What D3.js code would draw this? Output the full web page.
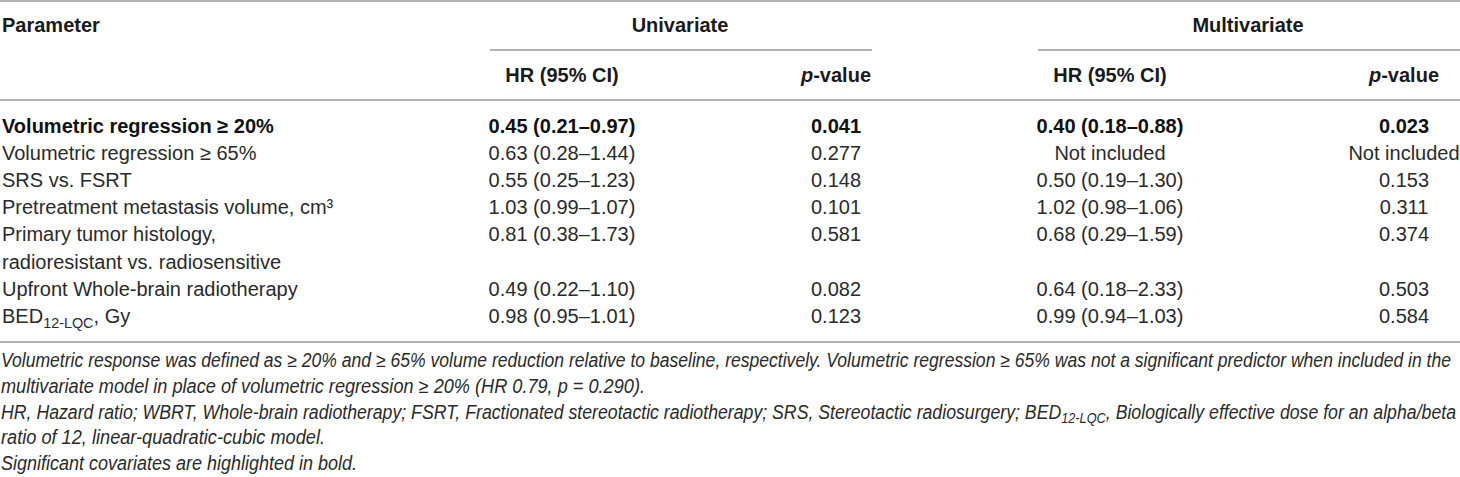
<!DOCTYPE html>
<html><head><meta charset="utf-8">
<script src="https://cdn.jsdelivr.net/npm/d3@7"></script>
<style>
body{margin:0;background:#fff}
svg{display:block}
text{font-family:"Liberation Sans",Arial,Helvetica,sans-serif}
</style>
</head><body>
<svg id="chart" width="1460" height="477"></svg>
<script>
// ---- data ----
const parameters = [
  "Volumetric regression ≥ 20%",
  "Volumetric regression ≥ 65%",
  "SRS vs. FSRT",
  "Pretreatment metastasis volume, cm³",
  "Primary tumor histology,\nradioresistant vs. radiosensitive",
  "Upfront Whole-brain radiotherapy",
  "BED_{12-LQC}, Gy"
];
const uniHR = ["0.45 (0.21–0.97)","0.63 (0.28–1.44)","0.55 (0.25–1.23)","1.03 (0.99–1.07)","0.81 (0.38–1.73)","0.49 (0.22–1.10)","0.98 (0.95–1.01)"];
const uniP = ["0.041","0.277","0.148","0.101","0.581","0.082","0.123"];
const multiHR = ["0.40 (0.18–0.88)","Not included","0.50 (0.19–1.30)","1.02 (0.98–1.06)","0.68 (0.29–1.59)","0.64 (0.18–2.33)","0.99 (0.94–1.03)"];
const multiP = ["0.023","Not included","0.153","0.311","0.374","0.503","0.584"];
const significant = [true,false,false,false,false,false,false];
const groupHeaders = ["Univariate","Multivariate"];
const columnHeaders = ["HR (95% CI)","*p*-value","HR (95% CI)","*p*-value"];
const footnotes = [
  "Volumetric response was defined as ≥ 20% and ≥ 65% volume reduction relative to baseline, respectively. Volumetric regression ≥ 65% was not a significant predictor when included in the",
  "multivariate model in place of volumetric regression ≥ 20% (HR 0.79, p = 0.290).",
  "HR, Hazard ratio; WBRT, Whole-brain radiotherapy; FSRT, Fractionated stereotactic radiotherapy; SRS, Stereotactic radiosurgery; BED_{12-LQC}, Biologically effective dose for an alpha/beta",
  "ratio of 12, linear-quadratic-cubic model.",
  "Significant covariates are highlighted in bold."
];

// ---- layout ----
const W = 1460;
const svg = d3.select("#chart");
const FS = 20;
const colKeys = ["uniHR","uniP","multiHR","multiP"];
const colX = d3.scaleOrdinal().domain(colKeys).range([562, 836, 1110, 1404]);
const groupSpan = d3.scaleOrdinal().domain(groupHeaders).range([[490, 872],[1038, 1460]]);

// line indices for rows (multi-line labels take more lines)
const rowLine = [];
let li = 0;
parameters.forEach(p => { rowLine.push(li); li += p.split("\n").length; });
const yRow = d3.scaleLinear().domain([0, 1]).range([132.5, 159.7]);
const yFoot = d3.scaleLinear().domain([0, 1]).range([367, 392.8]);

// rich text helper: _{sub}, *italic*
function rich(sel, str, fs) {
  const re = /(_\{[^}]*\}|\*[^*]*\*)/g;
  const parts = str.split(re).filter(s => s !== "");
  let shifted = false;
  parts.forEach(p => {
    if (p.startsWith("_{")) {
      sel.append("tspan").attr("dy", fs*0.25).attr("font-size", fs*0.72).text(p.slice(2, -1));
      shifted = true;
    } else if (p.startsWith("*") && p.endsWith("*") && p.length > 1) {
      const t = sel.append("tspan").attr("font-style","italic").text(p.slice(1, -1));
      if (shifted) { t.attr("dy", -fs*0.25); shifted = false; }
    } else {
      const t = sel.append("tspan").text(p);
      if (shifted) { t.attr("dy", -fs*0.25); shifted = false; }
    }
  });
}

// rules
const rule = (x1, x2, y) => svg.append("line").attr("x1", x1).attr("x2", x2).attr("y1", y).attr("y2", y)
  .attr("stroke", "#9a9a9a").attr("stroke-width", 1.6);
rule(0, W, 1);
groupHeaders.forEach(g => { const s = groupSpan(g); rule(s[0], s[1], 50); });
rule(0, W, 100);
rule(0, W, 342);

// headers
svg.append("text").attr("x", 2).attr("y", 32).attr("font-size", FS).attr("font-weight", "bold")
  .attr("fill", "#1a1a1a").text("Parameter");
groupHeaders.forEach(g => {
  const s = groupSpan(g);
  svg.append("text").attr("x", (s[0]+s[1])/2 - 1).attr("y", 32).attr("text-anchor","middle")
    .attr("font-size", FS).attr("font-weight","bold").attr("fill","#1a1a1a").text(g);
});
colKeys.forEach((k, i) => {
  const t = svg.append("text").attr("x", colX(k)).attr("y", 82).attr("text-anchor","middle")
    .attr("font-size", FS).attr("font-weight","bold").attr("fill","#1a1a1a");
  rich(t, columnHeaders[i], FS);
});

// body rows
const cols = {uniHR, uniP, multiHR, multiP};
parameters.forEach((p, i) => {
  const weight = significant[i] ? "bold" : "normal";
  const fill = significant[i] ? "#111" : "#2a2a2a";
  p.split("\n").forEach((line, j) => {
    const t = svg.append("text").attr("x", 2).attr("y", yRow(rowLine[i] + j))
      .attr("font-size", FS).attr("font-weight", weight).attr("fill", fill);
    rich(t, line, FS);
  });
  colKeys.forEach(k => {
    svg.append("text").attr("x", colX(k)).attr("y", yRow(rowLine[i])).attr("text-anchor","middle")
      .attr("font-size", FS).attr("font-weight", weight).attr("fill", fill).text(cols[k][i]);
  });
});

// footnotes
const footWidths = [1450, 644, 1455, 324, 356];
footnotes.forEach((f, i) => {
  const t = svg.append("text").attr("x", 1).attr("y", yFoot(i))
    .attr("font-size", 19.5).attr("font-style","italic").attr("fill","#2a2a2a")
    .attr("textLength", footWidths[i]).attr("lengthAdjust","spacingAndGlyphs");
  rich(t, f, 19.5);
});
</script>
</body></html>
